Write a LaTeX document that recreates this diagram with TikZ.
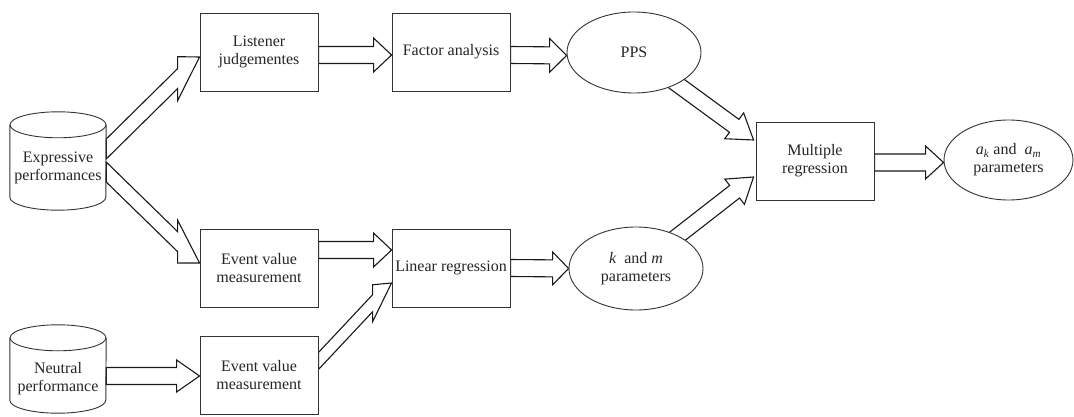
\documentclass[tikz,border=0pt]{standalone}
\usepackage{fontspec}
\setmainfont{Liberation Serif}
\usetikzlibrary{calc,shapes.geometric}
\pgfdeclarelayer{back}
\pgfsetlayers{back,main}

% Hollow block arrow whose cross-sections are vertical:
% #1 head length, #2 shaft half height, #3 head half height, #4 tail, #5 tip
\newcommand\vfat[5]{%
  \draw[fat] let \p1=(#4), \p2=(#5),
      \n1={(\y2-\y1)/(\x2-\x1)}, \n4={\x2-\x1-#1} in
    (\x1,{\y1-#2})
    -- ({\x1+(\n4)},{\y1+(\n1)*(\n4)-#2})
    -- ({\x1+(\n4)},{\y1+(\n1)*(\n4)-#3})
    -- (\x2,\y2)
    -- ({\x1+(\n4)},{\y1+(\n1)*(\n4)+#3})
    -- ({\x1+(\n4)},{\y1+(\n1)*(\n4)+#2})
    -- (\x1,{\y1+#2}) -- cycle;}

% Hollow block arrow with cross-sections perpendicular to its axis
\newcommand\pfat[5]{%
  \draw[fat] let \p1=(#4), \p2=(#5),
      \n1={veclen(\x2-\x1,\y2-\y1)},
      \n2={(\x2-\x1)/(\n1)}, \n3={(\y2-\y1)/(\n1)}, \n4={\n1-#1} in
    ({\x1-(\n3)*#2},{\y1+(\n2)*#2})
    -- ({\x1+(\n2)*(\n4)-(\n3)*#2},{\y1+(\n3)*(\n4)+(\n2)*#2})
    -- ({\x1+(\n2)*(\n4)-(\n3)*#3},{\y1+(\n3)*(\n4)+(\n2)*#3})
    -- (\x2,\y2)
    -- ({\x1+(\n2)*(\n4)+(\n3)*#3},{\y1+(\n3)*(\n4)-(\n2)*#3})
    -- ({\x1+(\n2)*(\n4)+(\n3)*#2},{\y1+(\n3)*(\n4)-(\n2)*#2})
    -- ({\x1+(\n3)*#2},{\y1-(\n2)*#2}) -- cycle;}

% Database drum drawn round a frame node
\newcommand\drum[1]{%
  \draw[drumline] ($(#1.north)+(0,13)$) ellipse[x radius=48pt, y radius=13pt];
  \draw[drumline] ($(#1.north west)+(0,13)$) -- ($(#1.south west)+(0,-13)$)
    arc[start angle=180, end angle=360, x radius=48pt, y radius=13pt]
    -- ($(#1.north east)+(0,13)$);}

\tikzset{
  fat/.style={draw=black!90, line width=1.1pt, line join=miter},
  boxnode/.style={draw=black!80, fill=white, line width=0.9pt,
    minimum width=118pt, minimum height=78pt, inner sep=0pt, align=center, text=black!85},
  oval/.style={ellipse, draw=black!80, fill=white, line width=0.9pt,
    inner sep=0pt, align=center, text=black!85},
  frame/.style={inner sep=0pt, minimum width=96pt},
  drumline/.style={draw=black!80, line width=0.9pt},
  txt/.style={align=center, inner sep=0pt, text=black!85}
}

\begin{document}
\begin{tikzpicture}[x=1pt, y=-1pt, font=\fontsize{16}{18}\selectfont]
\useasboundingbox (0,0) rectangle (1074,417);

% sources
\node[frame, minimum height=98pt] (ep) at (58,161) {};
\drum{ep}
\node[txt] (eptext) at ($(ep)+(0,6.5)$) {Expressive\\performances};
\node[frame, minimum height=88pt] (np) at (58,369) {};
\drum{np}
\node[txt] (nptext) at ($(np)+(0,10)$) {Neutral\\performance};

% processing steps
\node[boxnode] (lj) at (259,52) {Listener\\judgementes};
\node[boxnode] (fa) at (451,52) {Factor analysis};
\node[oval, minimum width=134pt, minimum height=81pt] (pps) at (634,52.5) {PPS};
\node[boxnode] (ev1) at (259,268) {Event value\\measurement};
\node[boxnode] (ev2) at (259,375) {Event value\\measurement};
\node[boxnode] (lr) at (451,268) {Linear regression};
\node[oval, minimum width=134pt, minimum height=83pt] (km) at (636,268.5)
  {\textit{k}~ and \textit{m}\\parameters};
\node[boxnode] (mr) at (815,161) {Multiple\\regression};
\node[oval, minimum width=129pt, minimum height=80pt] (ak) at (1008.5,160)
  {\textit{a}\textsubscript{\textit{k}} and~ \textit{a}\textsubscript{\textit{m}}\\parameters};

\begin{pgfonlayer}{back}
  \vfat{22}{10}{22}{$(ep.east)+(0,-12)$}{$(lj.west)+(0,5)$}
  \vfat{22}{10}{21.5}{$(ep.east)+(0,11)$}{$(ev1.west)+(0,-5)$}
  \vfat{23}{8.5}{16}{$(np.east)+(0,7)$}{$(ev2.west)+(0,1)$}
  \vfat{18}{8.5}{17}{$(lj.east)+(0,3)$}{$(fa.west)+(0,3)$}
  \vfat{17}{8.5}{17}{$(fa.east)+(0,3)$}{$(pps.west)+(0,3)$}
  \vfat{18}{8.5}{17}{$(ev1.east)+(0,-18)$}{$(lr.west)+(0,-18)$}
  \vfat{19}{8.5}{18.5}{$(ev2.east)+(0,-14)$}{$(lr.west)+(0,15)$}
  \vfat{16}{8.5}{16.5}{lr.east}{km.west}
  \pfat{24}{8}{16}{pps.center}{$(mr.west)+(-2,-21)$}
  \pfat{24}{8}{16}{km.center}{$(mr.west)+(-2,16)$}
  \vfat{18}{8.5}{16.5}{$(mr.east)+(0,1.5)$}{$(ak.west)+(0,2.5)$}
\end{pgfonlayer}
\end{tikzpicture}
\end{document}
